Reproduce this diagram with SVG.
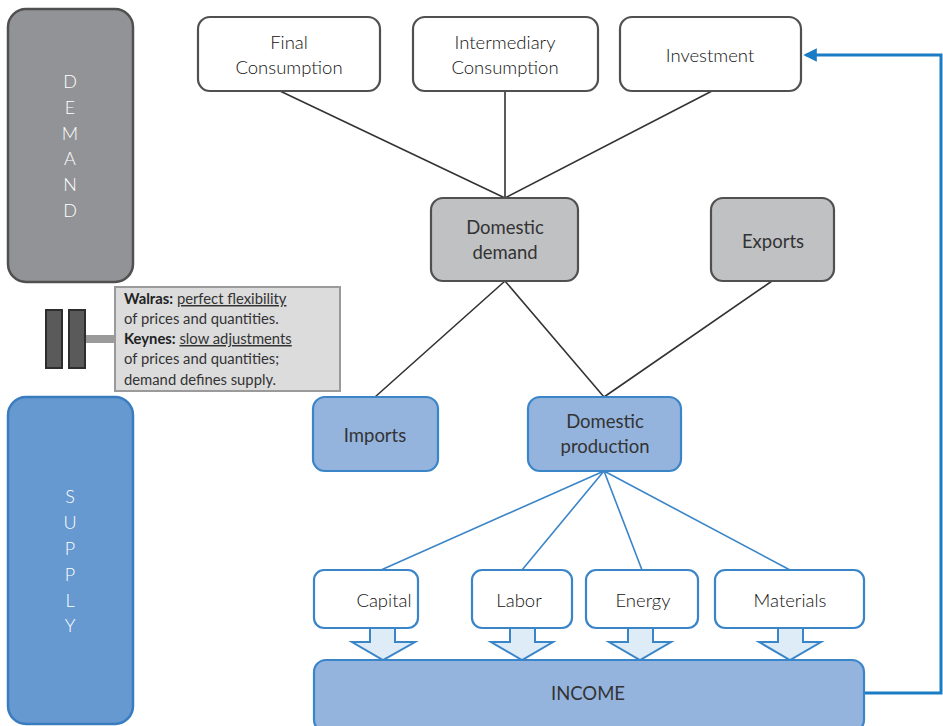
<svg xmlns="http://www.w3.org/2000/svg" width="943" height="726" viewBox="0 0 943 726">
<style>
text{font-family:Lato,"Open Sans","Liberation Sans",sans-serif;font-size:18.5px;fill:#333;text-anchor:middle;dominant-baseline:central}
.lt{font-weight:300;fill:#111}
.gw{fill:#fff;stroke:#505050;stroke-width:2.2}
.gg{fill:#c0c1c3;stroke:#505050;stroke-width:2.2}
.bb{fill:#94b4de;stroke:#3a85c8;stroke-width:2.2}
.bw{fill:#fff;stroke:#3a85c8;stroke-width:2.2}
.side{fill:#fff;font-size:18px;font-weight:300}
.dk{stroke:#333;stroke-width:1.6;fill:none}
.bl{stroke:#3a85c8;stroke-width:1.6;fill:none}
.ba{fill:#deecf8;stroke:#3a85c8;stroke-width:2}
.note{text-anchor:start;font-size:14.8px;dominant-baseline:auto;fill:#333}
</style>
<defs>
<marker id="ah" viewBox="0 0 10 10" refX="8" refY="5" markerWidth="4.5" markerHeight="4.5" orient="auto">
<path d="M0,0 L10,5 L0,10 Z" fill="#1a7cc4"/>
</marker>
</defs>
<g id="demand"><rect x="8" y="9" width="125" height="273" rx="18" fill="#929396" stroke="#505050" stroke-width="2.5"/>
<text class="side" x="70" y="81">D</text><text class="side" x="70" y="107">E</text><text class="side" x="70" y="133">M</text><text class="side" x="70" y="158">A</text><text class="side" x="70" y="184">N</text><text class="side" x="70" y="210">D</text></g>
<g id="supply"><rect x="8" y="397" width="125" height="327" rx="18" fill="#6699d0" stroke="#3a7cc0" stroke-width="2.5"/>
<text class="side" x="70" y="496">S</text><text class="side" x="70" y="522">U</text><text class="side" x="70" y="548">P</text><text class="side" x="70" y="574">P</text><text class="side" x="70" y="600">L</text><text class="side" x="70" y="625">Y</text></g>
<g id="equals"><rect x="85" y="335" width="31" height="8" fill="#9a9a9a"/>
<rect x="46" y="310" width="16" height="58" fill="#5a5a5a" stroke="#2e2e2e" stroke-width="2"/>
<rect x="69" y="310" width="16" height="58" fill="#5a5a5a" stroke="#2e2e2e" stroke-width="2"/></g>
<g id="note"><rect x="115" y="287" width="225" height="104" fill="#dcdcdd" stroke="#9a9a9a" stroke-width="2"/>
<text class="note" x="124" y="304"><tspan font-weight="bold" fill="#222">Walras:</tspan> <tspan text-decoration="underline">perfect flexibility</tspan></text>
<text class="note" x="124" y="324">of prices and quantities.</text>
<text class="note" x="124" y="344"><tspan font-weight="bold" fill="#222">Keynes:</tspan> <tspan text-decoration="underline">slow adjustments</tspan></text>
<text class="note" x="124" y="364">of prices and quantities;</text>
<text class="note" x="124" y="385">demand defines supply.</text></g>
<g id="connectors">
<path class="dk" d="M280,91 L505,198 M505,91 L505,198 M712,91 L505,198"/>
<path class="dk" d="M505,281 L375,397 M505,281 L604,397 M772,281 L604,397"/>
<path class="bl" d="M604,471 L381,570 M604,471 L522,570 M604,471 L642,570 M604,471 L790,570"/>
<path class="ba" d="M370,628 H395 V642 H415 L383,660 L352,642 H370 Z"/>
<path class="ba" d="M510,628 H535 V642 H553 L522,660 L491,642 H510 Z"/>
<path class="ba" d="M628,628 H653 V642 H671 L640,660 L609,642 H628 Z"/>
<path class="ba" d="M778,628 H803 V642 H821 L790,660 L759,642 H778 Z"/>
<path d="M864,693 H941 V55 H806" fill="none" stroke="#1a7cc4" stroke-width="3" marker-end="url(#ah)"/>
</g>
<g id="final"><rect class="gw" x="198" y="17" width="182" height="74" rx="12"/><text class="lt" x="289" y="42">Final</text><text class="lt" x="289" y="67">Consumption</text></g>
<g id="intermediary"><rect class="gw" x="413" y="17" width="185" height="74" rx="12"/><text class="lt" x="505" y="42">Intermediary</text><text class="lt" x="505" y="67">Consumption</text></g>
<g id="investment"><rect class="gw" x="620" y="17" width="181" height="74" rx="12"/><text class="lt" x="710" y="55">Investment</text></g>
<g id="domdemand"><rect class="gg" x="431" y="198" width="147" height="83" rx="12"/><text x="505" y="227" fill="#222">Domestic</text><text x="505" y="252" fill="#222">demand</text></g>
<g id="exports"><rect class="gg" x="711" y="198" width="123" height="83" rx="12"/><text x="773" y="241" fill="#222">Exports</text></g>
<g id="imports"><rect class="bb" x="313" y="397" width="125" height="74" rx="12"/><text x="375" y="435" fill="#222">Imports</text></g>
<g id="domprod"><rect class="bb" x="528" y="397" width="153" height="74" rx="12"/><text x="605" y="421" fill="#222">Domestic</text><text x="605" y="446" fill="#222">production</text></g>
<g id="capital"><rect class="bw" x="314" y="570" width="104" height="58" rx="10"/><text class="lt" x="384" y="600">Capital</text></g>
<g id="labor"><rect class="bw" x="472" y="570" width="100" height="58" rx="10"/><text class="lt" x="519" y="600">Labor</text></g>
<g id="energy"><rect class="bw" x="586" y="570" width="112" height="58" rx="10"/><text class="lt" x="643" y="600">Energy</text></g>
<g id="materials"><rect class="bw" x="715" y="570" width="149" height="58" rx="10"/><text class="lt" x="790" y="600">Materials</text></g>
<g id="income"><rect class="bb" x="314" y="660" width="550" height="72" rx="12"/><text x="588" y="693" fill="#222">INCOME</text></g>
</svg>
